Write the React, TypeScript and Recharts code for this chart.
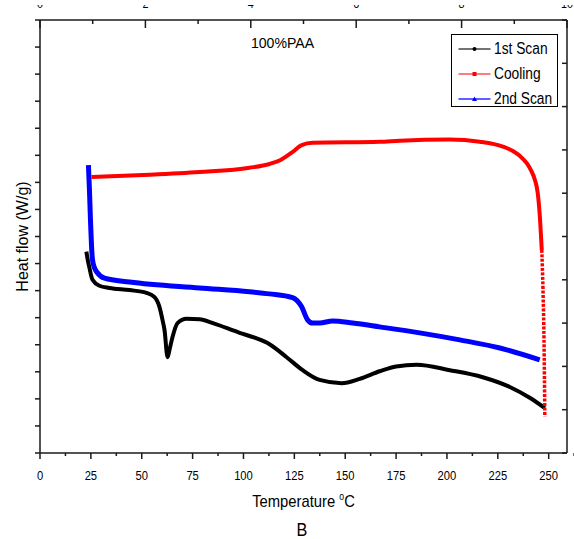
import { LineChart, Line, XAxis, YAxis, Legend } from "recharts";

const FONT = "'Liberation Sans', Arial, sans-serif";

interface Pt {
  t: number;
  v: number;
}

// heat flow traces, x = temperature (°C), y = heat flow on the plot's own (unlabelled) scale
const firstScan: Pt[] = [
  { t: 22.8, v: 3.72 }, { t: 23.3, v: 3.6 }, { t: 24.3, v: 3.42 }, { t: 25.8, v: 3.2 },
  { t: 29.2, v: 3.09 }, { t: 34.1, v: 3.05 }, { t: 44.0, v: 3.01 }, { t: 52.3, v: 2.96 },
  { t: 56.3, v: 2.88 }, { t: 58.7, v: 2.7 }, { t: 60.2, v: 2.46 }, { t: 61.2, v: 2.27 },
  { t: 62.7, v: 1.77 }, { t: 63.6, v: 1.9 }, { t: 65.1, v: 2.14 }, { t: 67.6, v: 2.4 },
  { t: 72.0, v: 2.48 }, { t: 78.4, v: 2.47 }, { t: 85.0, v: 2.4 }, { t: 98.1, v: 2.22 },
  { t: 105.5, v: 2.13 }, { t: 112.8, v: 2.01 }, { t: 121.2, v: 1.77 }, { t: 129.1, v: 1.53 },
  { t: 137.4, v: 1.35 }, { t: 148.3, v: 1.29 }, { t: 157.1, v: 1.37 }, { t: 166.9, v: 1.51 },
  { t: 175.0, v: 1.6 }, { t: 185.1, v: 1.63 }, { t: 201.4, v: 1.53 }, { t: 217.6, v: 1.4 },
  { t: 230.9, v: 1.22 }, { t: 240.7, v: 1.02 }, { t: 248.1, v: 0.83 },
];

const secondScan: Pt[] = [
  { t: 23.8, v: 5.32 }, { t: 24.3, v: 4.86 }, { t: 24.8, v: 4.31 }, { t: 25.3, v: 3.84 },
  { t: 25.8, v: 3.57 }, { t: 26.8, v: 3.42 }, { t: 28.2, v: 3.33 }, { t: 31.7, v: 3.23 },
  { t: 44.0, v: 3.16 }, { t: 78.4, v: 3.05 }, { t: 103.0, v: 2.98 }, { t: 112.8, v: 2.94 },
  { t: 124.1, v: 2.87 }, { t: 128.6, v: 2.7 }, { t: 131.5, v: 2.46 }, { t: 134.0, v: 2.4 },
  { t: 137.4, v: 2.4 }, { t: 143.8, v: 2.44 }, { t: 153.7, v: 2.4 }, { t: 166.9, v: 2.33 },
  { t: 186.6, v: 2.22 }, { t: 206.3, v: 2.09 }, { t: 226.0, v: 1.94 }, { t: 245.6, v: 1.72 },
];

const cooling: Pt[] = [
  { t: 25.3, v: 5.1 }, { t: 53.9, v: 5.14 }, { t: 78.4, v: 5.19 }, { t: 103.0, v: 5.27 },
  { t: 112.8, v: 5.34 }, { t: 118.0, v: 5.41 }, { t: 124.1, v: 5.56 }, { t: 128.6, v: 5.69 },
  { t: 134.0, v: 5.73 }, { t: 166.9, v: 5.75 }, { t: 176.8, v: 5.77 }, { t: 201.4, v: 5.79 },
  { t: 216.1, v: 5.75 }, { t: 227.5, v: 5.66 }, { t: 232.4, v: 5.58 }, { t: 235.8, v: 5.49 },
  { t: 239.3, v: 5.35 }, { t: 241.2, v: 5.23 }, { t: 243.2, v: 5.05 }, { t: 244.6, v: 4.81 },
  { t: 245.6, v: 4.4 }, { t: 246.6, v: 3.75 },
];

// sparse, marker-like tail of the cooling run at the start temperature
const coolingDrop: Pt[] = [
  { t: 246.6, v: 3.75 }, { t: 247.2, v: 3.01 }, { t: 247.7, v: 2.09 }, { t: 248.1, v: 0.67 },
];

const xMajor = [0, 25, 50, 75, 100, 125, 150, 175, 200, 225, 250];
const xTicks = xMajor.flatMap((t) => [t, t + 12.5]);
const yTicks = Array.from({ length: 17 }, (_, i) => i * 0.5);
const rightTicks = [0, 1, 2, 3, 4, 5, 6, 7, 8, 9, 10];
const topTicks = [0, 1, 2, 3, 4, 5, 6, 7, 8, 9, 10];
// corners of the top/right frame axes, so recharts builds their scales
const frameCorners: Pt[] = [{ t: 0, v: 0 }, { t: 10, v: 10 }];

const legendItems = [
  { name: "1st Scan", line: "#444", mark: "#000", shape: "dot" },
  { name: "Cooling", line: "#ff5050", mark: "#ff0000", shape: "square" },
  { name: "2nd Scan", line: "#2a2aff", mark: "#0000ff", shape: "triangle" },
];

const AXIS = "#1a1a1a";

// the source figure's lettering is horizontally squeezed
function NarrowText({ x, y, sx, size, rotate = 0, children }: any) {
  return (
    <text
      transform={`translate(${x},${y}) rotate(${rotate}) scale(${sx},1)`}
      textAnchor="middle"
      fontFamily={FONT}
      fontSize={size}
      fill="#000"
    >
      {children}
    </text>
  );
}

function BottomTick({ x, y, payload }: any) {
  const major = payload.value % 25 === 0;
  return (
    <g>
      <line x1={x} y1={y} x2={x} y2={y + (major ? 6 : 3)} stroke={AXIS} strokeWidth={1.5} />
      {major && (
        <NarrowText x={x} y={y + 27} sx={0.83} size={13.5}>
          {payload.value}
        </NarrowText>
      )}
    </g>
  );
}

// top axis labels sit above the cropped edge of the figure: only their feet show
function TopTick({ x, y, payload }: any) {
  const major = payload.value % 2 === 0;
  return (
    <g>
      <line x1={x} y1={y} x2={x} y2={y + (major ? 8 : 4)} stroke={AXIS} strokeWidth={1.5} />
      {major && (
        <svg x={x - 15} y={y - 15} width={30} height={4} overflow="hidden">
          <NarrowText x={15} y={3} sx={0.83} size={13}>
            {payload.value}
          </NarrowText>
        </svg>
      )}
    </g>
  );
}

function LeftTick({ x, y }: any) {
  return <line x1={x - 5} y1={y} x2={x} y2={y} stroke={AXIS} strokeWidth={1.5} />;
}

function RightTick({ x, y }: any) {
  return <line x1={x - 5} y1={y} x2={x} y2={y} stroke={AXIS} strokeWidth={1.5} />;
}

function XTitle(props: any) {
  const vb = props.viewBox ?? { x: 40, y: 453, width: 527 };
  const cx = vb.x + vb.width / 2;
  return (
    <NarrowText x={cx} y={vb.y + 54} sx={0.87} size={17}>
      Temperature <tspan dy={-7} fontSize={10}>o</tspan>
      <tspan dy={7}>C</tspan>
    </NarrowText>
  );
}

function YTitle(props: any) {
  const vb = props.viewBox ?? { x: 0, y: 20, width: 40, height: 433 };
  const cy = vb.y + vb.height / 2;
  return (
    <NarrowText x={vb.x + 28} y={cy} sx={1} size={16} rotate={-90}>
      Heat flow (W/g)
    </NarrowText>
  );
}

function Marker({ shape, color }: { shape: string; color: string }) {
  if (shape === "triangle") return <polygon points="22.5,2.5 25,7 20,7" fill={color} />;
  if (shape === "square") return <rect x={20.5} y={3} width={4} height={4} fill={color} />;
  return <circle cx={22.5} cy={5} r={2} fill={color} />;
}

function LegendBox() {
  return (
    <div
      style={{
        border: "1.5px solid #000",
        background: "#fff",
        width: 107,
        height: 73,
        boxSizing: "border-box",
        fontFamily: FONT,
        fontSize: 16,
        paddingTop: 1,
        overflow: "hidden",
      }}
    >
      {legendItems.map((item) => (
        <div key={item.name} style={{ display: "flex", alignItems: "center", height: 25, whiteSpace: "nowrap" }}>
          <svg width={42} height={10} style={{ flex: "none" }}>
            <line x1={6.5} y1={5} x2={38.5} y2={5} stroke={item.line} strokeWidth={1.5} />
            <Marker shape={item.shape} color={item.mark} />
          </svg>
          <span style={{ display: "inline-block", transform: "scaleX(0.86)", transformOrigin: "left center", lineHeight: "16px" }}>
            {item.name}
          </span>
        </div>
      ))}
    </div>
  );
}

export default function App() {
  return (
    <div style={{ position: "absolute", left: 0, top: 0, background: "#fff" }}>
      <LineChart width={574} height={539} margin={{ top: 0, right: 0, bottom: 0, left: 0 }}>
        <XAxis
          dataKey="t"
          type="number"
          domain={[0, 259]}
          ticks={xTicks}
          interval={0}
          allowDataOverflow
          axisLine={{ stroke: AXIS, strokeWidth: 1.5 }}
          tickLine={false}
          tickSize={0}
          tickMargin={0}
          tick={<BottomTick />}
          height={86}
          label={<XTitle />}
        />
        <XAxis
          xAxisId="top"
          orientation="top"
          dataKey="t"
          type="number"
          domain={[0, 10]}
          ticks={topTicks}
          interval={0}
          allowDataOverflow
          axisLine={{ stroke: AXIS, strokeWidth: 1.5 }}
          tickLine={false}
          tickSize={0}
          tickMargin={0}
          tick={<TopTick />}
          height={20}
        />
        <YAxis
          type="number"
          domain={[0, 8]}
          ticks={yTicks}
          interval={0}
          allowDataOverflow
          axisLine={{ stroke: AXIS, strokeWidth: 1.5 }}
          tickLine={false}
          tickSize={0}
          tickMargin={0}
          tick={<LeftTick />}
          width={40}
          label={<YTitle />}
        />
        <YAxis
          yAxisId="right"
          orientation="right"
          type="number"
          domain={[0, 10]}
          ticks={rightTicks}
          interval={0}
          allowDataOverflow
          axisLine={{ stroke: AXIS, strokeWidth: 1.5 }}
          tickLine={false}
          tickSize={0}
          tickMargin={0}
          tick={<RightTick />}
          width={7}
        />
        <Legend
          layout="vertical"
          align="center"
          verticalAlign="middle"
          content={<LegendBox />}
          wrapperStyle={{ left: 451, top: 34, width: 107, height: 73 }}
        />
        <Line
          xAxisId="top"
          yAxisId="right"
          data={frameCorners}
          dataKey="v"
          stroke="none"
          strokeWidth={0}
          dot={false}
          activeDot={false}
          legendType="none"
          isAnimationActive={false}
        />
        <Line data={firstScan} dataKey="v" type="monotone" stroke="#000" strokeWidth={4} dot={false} isAnimationActive={false} />
        <Line data={secondScan} dataKey="v" type="monotone" stroke="#0000ff" strokeWidth={5} dot={false} isAnimationActive={false} />
        <Line data={cooling} dataKey="v" type="monotone" stroke="#ff0000" strokeWidth={4} dot={false} isAnimationActive={false} />
        <Line
          data={coolingDrop}
          dataKey="v"
          type="monotone"
          stroke="#ff0000"
          strokeWidth={3.5}
          strokeDasharray="3 1.5"
          dot={false}
          isAnimationActive={false}
        />
        <NarrowText x={282.5} y={48} sx={0.91} size={15.5}>
          100%PAA
        </NarrowText>
        <NarrowText x={302} y={536} sx={0.9} size={18}>
          B
        </NarrowText>
      </LineChart>
    </div>
  );
}
